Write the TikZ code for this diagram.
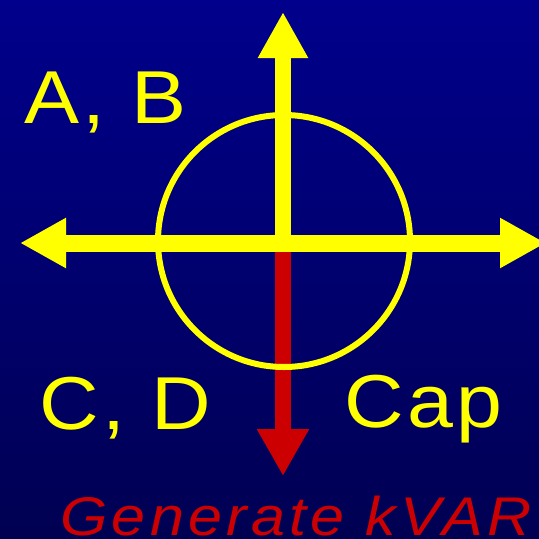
\documentclass[tikz,border=0pt]{standalone}
\usepackage{fontspec}
\setmainfont{Liberation Sans}
\newfontfamily\quadfont[LetterSpace=4]{Liberation Sans}
\newfontfamily\capfont[LetterSpace=7]{Liberation Sans}
\usetikzlibrary{arrows.meta}

\definecolor{navytop}{RGB}{0,0,140}
\definecolor{navybot}{RGB}{0,0,82}
\definecolor{axisyellow}{RGB}{255,255,0}
\definecolor{kvarred}{RGB}{204,0,0}

\begin{document}
\begin{tikzpicture}[
  x=1pt,y=-1pt,
  axis/.style={line width=16pt,draw=axisyellow,-{Triangle[width=47pt,length=46pt]}},
  twoaxis/.style={line width=17pt,draw=axisyellow,{Triangle[width=47pt,length=46pt]}-{Triangle[width=47pt,length=46pt]}},
  kvar/.style={line width=16pt,draw=kvarred,-{Triangle[width=49pt,length=47pt]}},
  quad/.style={font=\quadfont\fontsize{75}{80}\selectfont,text=axisyellow,inner sep=0pt,anchor=base west,xscale=1.1},
]

% Background
\useasboundingbox (0,0) rectangle (539,539);
\clip (0,0) rectangle (539,539);
\shade[top color=navytop,bottom color=navybot] (0,0) rectangle (539,539);

% Axes end points
\coordinate (o) at (283,243);
\coordinate (n) at (283,12);
\coordinate (w) at (20,243);
\coordinate (e) at (546,243);
\coordinate (s) at (283,476);

% Generated current
\draw[kvar] (o) -- (s);

% Circle and axes
\draw[axisyellow,line width=6pt] (284,241) circle[radius=126pt];
\draw[twoaxis] (w) -- (e);
\draw[axis] (o) -- (n);

% Quadrant labels
\node[quad] (ab) at (24,123) {A, B};
\node[quad] (cd) at (39,429) {C, D};
\node[quad] (cap) at (344,427) {Cap};

% Bottom caption
\node[font=\capfont\fontsize{54.5}{58}\selectfont\itshape,text=kvarred,inner sep=0pt,anchor=base west,xscale=1.12] (gen) at (60,535) {Generate kVAR};

\end{tikzpicture}
\end{document}
